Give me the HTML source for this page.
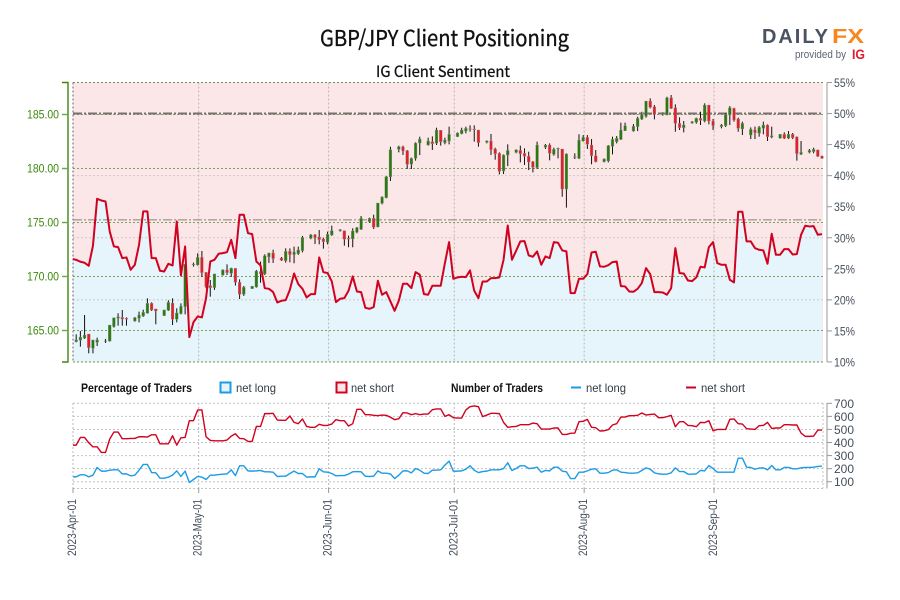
<!DOCTYPE html>
<html lang="en">
<head>
<meta charset="utf-8">
<title>GBP/JPY Client Positioning</title>
<style>
html,body{margin:0;padding:0;background:#fff;width:900px;height:600px;overflow:hidden}
svg{display:block}
.cond{font-family:"Liberation Sans Narrow","Liberation Sans",sans-serif}
.head{font-family:"Noto Sans CJK JP","Liberation Sans",sans-serif}
</style>
</head>
<body>
<svg id="chart" xmlns="http://www.w3.org/2000/svg" width="900" height="600" viewBox="0 0 900 600">
  <text class="head" x="320" y="46" font-size="22" font-weight="400" fill="#111" stroke="#111" stroke-width="0.35" textLength="249" lengthAdjust="spacingAndGlyphs">GBP/JPY Client Positioning</text>
  <text class="head" x="376" y="77" font-size="15.5" font-weight="400" fill="#111" stroke="#111" stroke-width="0.3" textLength="134" lengthAdjust="spacingAndGlyphs">IG Client Sentiment</text>
  <g>
    <text x="762" y="43" font-family="Liberation Sans, sans-serif" font-size="20" font-weight="700" fill="#4a5460" textLength="66" lengthAdjust="spacing">DAILY</text>
    <text x="832" y="43" font-family="Liberation Sans, sans-serif" font-size="20" font-weight="700" fill="#f7861e" textLength="32" lengthAdjust="spacingAndGlyphs">FX</text>
    <text x="795" y="58" font-family="Liberation Sans, sans-serif" font-size="11" fill="#5c6570" textLength="51" lengthAdjust="spacingAndGlyphs">provided by</text>
    <text x="852" y="59" font-family="Liberation Sans, sans-serif" font-size="14" font-weight="700" fill="#dd1c2e" textLength="13" lengthAdjust="spacingAndGlyphs">IG</text>
  </g>
  <g id="price-panel"></g>
  <g id="legend">
    <text class="cond" x="81" y="392" font-size="12" font-weight="700" fill="#111" textLength="111" lengthAdjust="spacingAndGlyphs">Percentage of Traders</text>
    <rect x="220.5" y="382.5" width="10" height="10" fill="#e6f3fb" stroke="#1c9be6" stroke-width="2"/>
    <text class="cond" x="236" y="392" font-size="12" fill="#333c46" textLength="40" lengthAdjust="spacingAndGlyphs">net long</text>
    <rect x="336.5" y="382.5" width="10" height="10" fill="#fbe6e7" stroke="#d0021f" stroke-width="2"/>
    <text class="cond" x="351" y="392" font-size="12" fill="#333c46" textLength="43" lengthAdjust="spacingAndGlyphs">net short</text>
    <text class="cond" x="451" y="392" font-size="12" font-weight="700" fill="#111" textLength="92" lengthAdjust="spacingAndGlyphs">Number of Traders</text>
    <line x1="571" y1="387.5" x2="581" y2="387.5" stroke="#1c9be6" stroke-width="2"/>
    <text class="cond" x="586" y="392" font-size="12" fill="#333c46" textLength="40" lengthAdjust="spacingAndGlyphs">net long</text>
    <line x1="686" y1="387.5" x2="696" y2="387.5" stroke="#d0021f" stroke-width="2"/>
    <text class="cond" x="701" y="392" font-size="12" fill="#333c46" textLength="44" lengthAdjust="spacingAndGlyphs">net short</text>
  </g>
  <g id="traders-panel"></g>
</svg>
<script>
const dateLabels = ['2023-Apr-01','2023-May-01','2023-Jun-01','2023-Jul-01','2023-Aug-01','2023-Sep-01'];
const dateDays = [0,30,61,91,122,153];
const priceTicks = [185,180,175,170,165];
const percentTicks = [55,50,45,40,35,30,25,20,15,10];
const percentGrid = [40,30,20];
const traderTicks = [700,600,500,400,300,200,100];
const referencePrice = 175.2;
const referencePercent = 50;

const opens = [
null,163.92,164.05,164.23,164.63,163.30,163.86,
null,163.95,163.98,165.31,166.08,166.17,166.08,
null,165.83,166.08,166.30,166.55,167.47,166.95,
null,166.33,166.82,167.50,165.99,166.51,167.16,
null,171.02,171.02,171.73,170.34,169.11,168.92,
null,170.09,170.56,170.25,170.71,169.42,168.30,
null,168.83,168.98,170.40,170.19,171.76,172.13,
null,171.67,171.42,172.29,171.98,172.07,172.35,
null,173.49,173.80,173.61,173.43,173.12,173.80,
null,174.20,174.20,173.49,173.43,174.05,174.32,
null,175.03,175.34,174.54,176.73,177.25,179.17,
null,181.73,181.97,181.60,180.34,180.89,182.31,
null,182.13,182.44,182.28,183.49,182.34,182.50,
null,182.90,183.18,183.42,183.58,183.61,183.52,
null,182.38,182.50,181.76,181.36,179.72,181.20,
null,181.45,181.63,181.36,181.08,180.59,180.03,
null,181.91,182.13,181.26,181.76,181.76,178.05,
null,180.99,180.89,182.50,182.84,182.13,181.14,
null,180.59,180.65,182.00,182.44,182.65,183.46,
null,183.42,183.83,184.54,184.78,186.20,185.68,
null,184.97,184.91,186.51,185.58,184.13,183.73,
null,184.17,184.23,184.60,184.35,185.83,184.35,
null,183.83,183.92,184.91,185.52,184.54,183.61,
null,183.05,183.52,183.21,183.67,183.98,182.87,
null,182.75,183.12,182.75,183.12,182.87,181.26,
null,181.45,181.51,181.67,181.11];

const highs = [
null,164.60,164.91,166.39,164.63,164.08,164.29,
null,164.17,165.46,166.14,166.55,166.85,166.17,
null,166.21,166.70,166.88,167.93,167.56,166.95,
null,166.88,167.75,167.93,167.01,167.47,171.08,
null,171.24,172.10,172.32,170.34,169.63,170.19,
null,170.62,171.08,170.77,170.71,169.69,169.08,
null,169.08,170.56,171.33,172.01,172.16,172.44,
null,171.76,172.56,172.56,172.72,172.72,173.71,
null,173.89,173.89,174.26,173.55,174.11,174.66,
null,174.35,174.20,173.74,174.42,174.54,175.56,
null,175.40,175.68,176.76,177.38,179.26,181.97,
null,182.07,182.07,181.67,180.96,182.38,182.90,
null,182.81,182.93,183.73,183.52,182.81,183.83,
null,183.30,183.73,183.83,183.95,183.95,183.52,
null,182.56,183.15,181.88,181.45,181.26,182.19,
null,181.73,182.07,181.82,181.51,180.65,182.44,
null,182.22,182.28,181.88,181.88,181.76,181.36,
null,181.36,183.12,183.05,183.05,182.68,181.67,
null,180.89,182.13,182.90,182.96,184.20,184.20,
null,184.07,184.75,185.21,186.20,186.45,185.83,
null,185.15,186.60,186.76,185.89,184.69,184.35,
null,184.35,184.66,185.21,185.99,185.83,184.54,
null,184.07,185.06,185.74,185.58,184.66,184.29,
null,183.76,183.83,183.89,184.29,184.04,183.83,
null,183.15,183.30,183.42,183.24,182.93,182.50,
null,181.76,181.88,181.70,181.14];

const lows = [
null,163.86,163.46,164.17,162.84,162.84,163.52,
null,163.80,163.92,165.22,165.40,165.40,165.40,
null,165.77,165.71,166.21,166.51,166.76,165.53,
null,166.30,166.76,165.46,165.71,166.45,166.45,
null,170.87,170.96,169.91,168.86,168.09,168.71,
null,170.03,170.09,169.91,169.11,167.87,168.15,
null,168.80,168.92,169.38,170.09,171.21,171.21,
null,171.39,171.24,171.27,171.18,171.95,172.19,
null,173.40,172.96,172.93,172.53,172.93,173.71,
null,174.11,172.81,172.66,172.66,173.95,174.26,
null,174.94,174.35,174.51,176.63,177.19,178.80,
null,181.45,181.20,179.91,179.91,180.68,181.20,
null,182.07,181.67,182.13,182.07,182.19,182.19,
null,182.87,183.12,183.21,183.36,182.44,181.97,
null,182.28,181.20,180.77,179.41,179.44,180.18,
null,181.36,180.52,180.28,179.81,179.60,179.91,
null,181.76,180.71,181.14,180.89,177.34,176.33,
null,180.83,180.83,182.44,181.76,180.34,180.52,
null,180.52,180.52,181.26,182.28,182.59,183.42,
null,183.36,183.42,184.44,184.66,185.52,184.50,
null,184.84,184.88,185.46,183.36,183.52,183.30,
null,184.10,184.10,183.98,184.23,184.04,183.52,
null,183.67,183.80,183.98,184.29,183.36,183.05,
null,182.68,182.68,182.90,183.12,182.50,182.75,
null,182.72,182.68,182.68,182.68,180.68,181.20,
null,181.36,181.36,181.02,180.86];

const closes = [
null,164.08,164.35,164.54,163.37,164.08,164.08,
null,164.01,165.46,166.14,166.21,166.02,165.99,
null,166.14,166.39,166.64,167.47,166.85,166.76,
null,166.85,167.56,165.99,166.58,167.19,171.08,
null,171.11,171.73,170.31,169.01,168.92,170.19,
null,170.56,170.31,170.71,169.42,168.30,168.95,
null,169.05,170.46,170.22,171.88,172.13,171.61,
null,171.45,172.29,171.98,172.22,172.41,173.58,
null,173.80,173.55,173.37,173.18,173.86,174.20,
null,174.29,173.40,173.43,174.17,174.48,175.34,
null,175.34,174.51,176.76,177.31,179.20,181.70,
null,181.97,181.57,180.34,180.89,182.31,182.68,
null,182.50,182.25,183.52,182.44,182.59,183.12,
null,183.24,183.52,183.67,183.64,183.55,182.34,
null,182.50,181.70,181.33,179.69,181.20,181.63,
null,181.67,181.33,181.08,180.55,180.06,182.13,
null,182.13,181.36,181.73,181.82,178.05,181.30,
null,181.05,182.59,182.84,182.19,181.14,180.59,
null,180.83,182.07,182.65,182.75,183.52,183.92,
null,183.86,184.60,184.91,186.20,185.62,184.97,
null,185.06,186.51,185.52,184.13,183.73,183.98,
null,184.29,184.60,184.41,185.83,184.35,183.92,
null,183.98,184.97,185.58,184.44,183.67,184.13,
null,183.58,183.27,183.76,183.98,182.90,182.99,
null,183.12,182.75,183.12,182.81,181.33,181.45,
null,181.63,181.73,181.08,180.89];

const netLongPercent = [
26.56,26.45,26.13,25.97,25.49,28.71,36.28,36.0,35.85,31.02,28.6,28.49,26.72,26.83,24.84,25.65,28.87,34.24,34.24,26.72,
26.72,24.68,24.57,25.81,25.54,32.63,23.93,28.6,14.0,16.41,17.33,17.17,20.28,26.18,26.45,27.42,27.53,27.69,29.67,26.72,
33.7,33.7,30.75,30.59,26.18,25.54,21.89,21.78,21.25,19.58,19.85,19.96,21.62,24.25,22.53,21.78,20.39,20.92,20.92,26.83,
24.47,24.31,22.96,19.64,20.17,20.28,21.46,23.77,21.35,21.25,18.72,18.56,18.83,23.07,20.82,21.25,19.74,18.24,19.85,22.59,
22.59,21.89,24.47,24.04,20.92,20.82,22.27,22.27,22.27,25.92,29.3,23.39,23.61,23.72,23.66,24.74,21.46,20.28,22.96,22.96,
23.5,23.5,23.61,26.45,31.98,26.45,27.9,29.41,29.46,27.15,26.94,27.8,25.65,26.99,26.72,29.3,29.19,27.96,27.8,21.09,
21.09,23.39,23.39,24.14,27.63,27.74,25.38,25.33,25.59,26.08,26.18,22.21,22.16,21.35,21.3,21.78,22.7,25.11,24.14,21.25,
21.25,21.19,20.82,21.89,28.33,24.31,24.25,23.12,23.02,23.61,25.33,25.22,28.49,29.3,25.92,25.65,25.65,23.23,22.8,34.18,
34.18,29.41,29.41,28.33,28.06,27.96,25.81,30.64,27.26,27.26,28.17,28.17,27.31,27.37,30.48,31.93,31.82,31.87,30.48,30.59];

const netShortTraders = [
380,380,439,439,398,367,367,324,324,426,480,480,429,429,431,431,444,444,442,459,
459,390,390,390,452,380,436,439,567,567,649,649,444,416,413,413,413,419,449,467,
431,429,408,408,523,523,621,621,623,572,570,570,603,554,544,580,523,516,516,539,
531,531,541,575,567,567,526,544,654,654,613,613,608,605,610,608,593,575,582,628,
626,613,621,613,618,618,651,657,657,600,613,590,587,587,649,674,680,674,598,610,
623,623,621,554,516,521,523,536,536,536,549,544,503,503,503,511,511,462,462,470,
472,559,562,577,516,513,488,490,498,534,544,595,595,605,605,608,626,610,615,618,
590,590,598,608,521,559,559,531,529,521,554,552,567,490,500,500,500,577,580,544,
541,506,503,500,529,531,554,508,511,511,536,536,534,534,472,447,447,449,495,495];

const netLongTraders = [
137,137,153,153,137,150,209,181,181,188,191,191,160,160,145,150,188,232,232,170,
168,127,127,135,150,183,140,181,94,117,140,135,117,150,150,155,158,160,191,147,
222,222,183,181,183,186,176,176,173,140,142,142,163,181,163,163,135,137,137,199,
176,173,163,145,147,147,158,176,178,176,142,140,142,183,165,165,160,124,150,183,
183,168,201,188,165,163,188,188,191,227,258,181,181,183,196,222,188,170,178,181,
191,191,191,201,245,186,201,222,222,201,204,211,173,186,183,211,211,181,176,124,
124,173,173,183,196,199,165,165,170,188,191,173,170,165,165,168,186,206,196,168,
160,158,158,168,206,178,178,158,158,160,186,183,224,201,173,173,173,173,173,280,
280,211,209,196,204,206,191,224,191,191,209,209,199,199,206,209,209,211,217,219];

const svgNS = 'http://www.w3.org/2000/svg';
const pricePanel = document.getElementById('price-panel');
const tradersPanel = document.getElementById('traders-panel');

const plotLeft = 73, plotRight = 823;
const dayStep = (plotRight - plotLeft) / 179;
function xTick(d){ return plotLeft + dayStep * d; }
function xMark(d){ return plotLeft - 1 + dayStep * d; }
function yPrice(p){ return 114 + (185 - p) * 10.8; }
function yPercent(v){ return 82.5 + (55 - v) * 6.21; }
function yTraders(v){ return 403.3 + (700 - v) * 0.1307; }

function make(tag, parent, attrs){
  const el = document.createElementNS(svgNS, tag);
  for (const k in attrs) el.setAttribute(k, attrs[k]);
  parent.appendChild(el);
  return el;
}
function hline(parent, y, x1, x2, stroke, dash, width){
  return make('line', parent, {x1:x1, x2:x2, y1:y, y2:y, stroke:stroke, 'stroke-width':width||1, 'stroke-dasharray':dash});
}

/* ---------- backgrounds ---------- */
const bgPink = make('rect', pricePanel, {x:plotLeft, y:82.5, width:plotRight-plotLeft, height:279.5, fill:'#fce7e8'});



const pts = netLongPercent.map((v,i)=>[Math.max(plotLeft,xMark(i)).toFixed(2), yPercent(v).toFixed(2)]);
const areaPath = 'M' + pts.map(p=>p.join(',')).join('L') + 'L' + pts[pts.length-1][0] + ',362L' + plotLeft + ',362Z';
const area = make('path', pricePanel, {d:areaPath, fill:'#e6f4fc'});



/* ---------- grid: top panel ---------- */
percentGrid.forEach(v=>{
  const g = hline(pricePanel, yPercent(v), plotLeft, plotRight, '#cfc7c9', '2 2');
  
  
});
dateDays.forEach(d=>{
  const g = make('line', pricePanel, {x1:xTick(d), x2:xTick(d), y1:82.5, y2:362, stroke:'#bdb5b7', 'stroke-width':1, 'stroke-dasharray':'2 2'});
  
  
});
priceTicks.forEach(p=>{
  const g = hline(pricePanel, yPrice(p)+0.5, plotLeft, plotRight, '#7fa35c', '2 2');
  
  
});
[82.5, 362].forEach(y=>{
  const g = hline(pricePanel, y, plotLeft, plotRight, '#6f8f50', '2 2');
  
  
});
const leftEdge = make('line', pricePanel, {x1:plotLeft, x2:plotLeft, y1:82.5, y2:362, stroke:'#666', 'stroke-width':1, 'stroke-dasharray':'2 2'});



const ref50 = hline(pricePanel, yPercent(referencePercent), plotLeft, plotRight, '#76716f', '9 2 2 2', 2);


const refPrice = hline(pricePanel, yPrice(referencePrice), plotLeft, plotRight, '#857f7f', '9 2 2 2', 1);



/* ---------- candles ---------- */
opens.forEach((o,i)=>{
  if (o === null) return;
  const c = closes[i], h = highs[i], l = lows[i];
  const up = c >= o;
  const x = xMark(i);
  const g = make('g', pricePanel, {});
  
  
  make('line', g, {x1:x, x2:x, y1:yPrice(h), y2:yPrice(l), stroke:'#111', 'stroke-width':1});
  const top = yPrice(Math.max(o,c)), bot = yPrice(Math.min(o,c));
  make('rect', g, {x:x-1.4, y:top, width:2.8, height:Math.max(0.8,bot-top), fill:up?'#2b7a10':'#e0202a', stroke:'#9a9a9a', 'stroke-width':0.35});
});

/* ---------- sentiment line ---------- */
const sentLine = make('polyline', pricePanel, {points:pts.map(p=>p.join(',')).join(' '), fill:'none', stroke:'#d0021f', 'stroke-width':2, 'stroke-linejoin':'round'});



/* ---------- left axis ---------- */
const leftAxis = make('path', pricePanel, {d:'M62,82.5H68V362H62', fill:'none', stroke:'#3d8a10', 'stroke-width':1.4});


priceTicks.forEach(p=>{
  const y = yPrice(p);
  const tk = make('line', pricePanel, {x1:62, x2:68, y1:y+0.5, y2:y+0.5, stroke:'#6fa84a', 'stroke-width':1.5});
  
  
  const t = make('text', pricePanel, {x:27, y:y+4.5, 'font-size':12, fill:'#3d8a10', class:'cond', textLength:32, lengthAdjust:'spacingAndGlyphs'});
  
  
  t.textContent = p.toFixed(2);
});

/* ---------- right axis, percent ---------- */
const rightAxis = make('line', pricePanel, {x1:827, x2:827, y1:82.5, y2:362, stroke:'#999', 'stroke-width':1});


percentTicks.forEach(v=>{
  const y = yPercent(v);
  const tk = make('line', pricePanel, {x1:827, x2:832, y1:y, y2:y, stroke:'#999', 'stroke-width':1});
  
  
  const t = make('text', pricePanel, {x:834, y:y+4.5, 'font-size':12, fill:'#444e5a', class:'cond', textLength:21, lengthAdjust:'spacingAndGlyphs'});
  
  
  t.textContent = v + '%';
});

/* ---------- traders panel ---------- */
traderTicks.forEach(v=>{
  const y = yTraders(v);
  const g = hline(tradersPanel, y, plotLeft, plotRight, '#c4c4c4', '2 2');
  
  
  const tk = make('line', tradersPanel, {x1:827, x2:832, y1:y, y2:y, stroke:'#999', 'stroke-width':1});
  
  
  const t = make('text', tradersPanel, {x:834, y:y+4.5, 'font-size':12, fill:'#444e5a', class:'cond', textLength:20, lengthAdjust:'spacingAndGlyphs'});
  
  
  t.textContent = v;
});
const tBottom = hline(tradersPanel, 488.5, plotLeft, plotRight, '#c4c4c4', '2 2');


const tAxis = make('line', tradersPanel, {x1:827, x2:827, y1:403, y2:488.5, stroke:'#999', 'stroke-width':1});


const tRight = make('line', tradersPanel, {x1:plotRight, x2:plotRight, y1:403, y2:488.5, stroke:'#c4c4c4', 'stroke-width':1, 'stroke-dasharray':'2 2'});



dateDays.forEach((d,i)=>{
  const x = xTick(d);
  const g = make('line', tradersPanel, {x1:x, x2:x, y1:403, y2:488.5, stroke:'#bbb', 'stroke-width':1, 'stroke-dasharray':'2 2'});
  
  
  const tk = make('line', tradersPanel, {x1:x, x2:x, y1:488, y2:493, stroke:'#999', 'stroke-width':1});
  
  
  const t = make('text', tradersPanel, {transform:'translate('+(x+3)+',556) rotate(-90)', 'font-size':12, fill:'#444e5a', class:'cond', textLength:57, lengthAdjust:'spacingAndGlyphs'});
  
  
  t.textContent = dateLabels[i];
});

const shortLine = make('polyline', tradersPanel, {points:netShortTraders.map((v,i)=>Math.max(plotLeft,xMark(i)).toFixed(2)+','+yTraders(v).toFixed(2)).join(' '), fill:'none', stroke:'#d0021f', 'stroke-width':1.4, 'stroke-linejoin':'round'});


const longLine = make('polyline', tradersPanel, {points:netLongTraders.map((v,i)=>Math.max(plotLeft,xMark(i)).toFixed(2)+','+yTraders(v).toFixed(2)).join(' '), fill:'none', stroke:'#1c9be6', 'stroke-width':1.4, 'stroke-linejoin':'round'});


</script>
</body>
</html>
